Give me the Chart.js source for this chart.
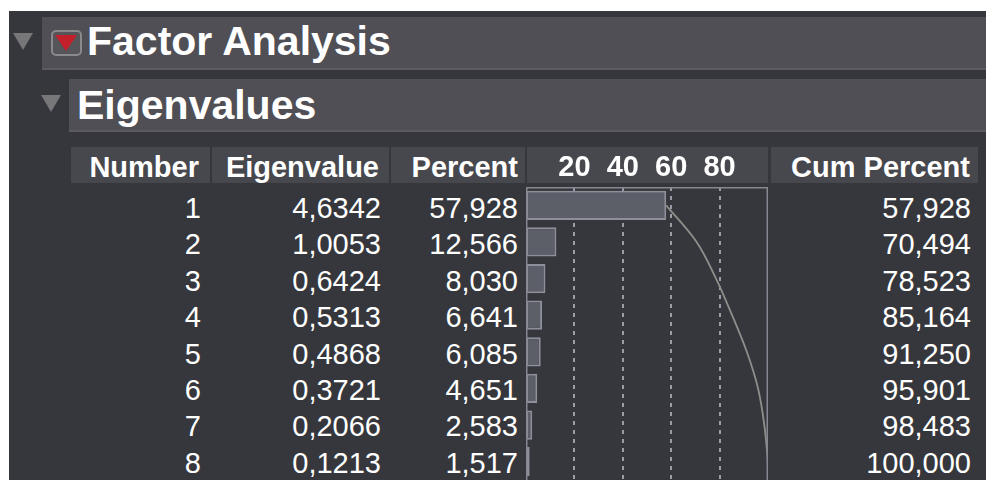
<!DOCTYPE html>
<html>
<head>
<meta charset="utf-8">
<script src="https://cdn.jsdelivr.net/npm/chart.js@4"></script>
<style>
  html, body { margin: 0; padding: 0; background: #fff; }
  body { width: 986px; height: 480px; position: relative; overflow: hidden;
         font-family: 'Liberation Sans', Arial, Helvetica, sans-serif; color: #fff; }
  .abs { position: absolute; }
  #panel { left: 9px; top: 11px; width: 977px; height: 469px; background: #35373c; }
  .bar  { background: #4f4f55; border-bottom: 2px solid #5b5b61; box-sizing: border-box; }
  .title { font-weight: bold; font-size: 41px; line-height: 40px; white-space: nowrap; }
  .hcell { top: 147px; height: 36px; background: #46484e; }
  .htxt { top: 149px; font-weight: bold; font-size: 29px; line-height: 36px; text-align: right; white-space: nowrap; }
  .col  { top: 190px; font-size: 29px; line-height: 36.4px; text-align: right; white-space: nowrap; }
  .tri { width: 0; height: 0; border-left: 10px solid transparent; border-right: 10px solid transparent;
         border-top: 17px solid #77777a; }
  #btn { left: 51px; top: 30px; width: 27px; height: 22px; border: 2px solid #8a8a8d; border-radius: 5px; background: #55555a; }
  #btn .red { position: absolute; left: 2px; top: 3px; width: 0; height: 0; border-left: 11.5px solid transparent;
              border-right: 11.5px solid transparent; border-top: 16px solid #c4202b; }
  #chartWrap { left: 526px; top: 147px; width: 244px; height: 333px; }
</style>
</head>
<body>
<div id="panel" class="abs"></div>

<div class="abs tri" style="left:13px;top:33px;"></div>
<div class="abs bar" style="left:42px;top:17px;width:944px;height:53px;"></div>
<div id="btn" class="abs"><div class="red"></div></div>
<div class="abs title" style="left:87px;top:21px;">Factor Analysis</div>

<div class="abs tri" style="left:41px;top:95px;"></div>
<div class="abs bar" style="left:69px;top:79px;width:917px;height:53px;"></div>
<div class="abs title" style="left:77px;top:85px;">Eigenvalues</div>

<div class="abs hcell" style="left:71px;width:139px;"></div>
<div class="abs hcell" style="left:212px;width:177px;"></div>
<div class="abs hcell" style="left:391px;width:134px;"></div>
<div class="abs hcell" style="left:527px;width:241px;"></div>
<div class="abs hcell" style="left:771px;width:207px;"></div>

<div class="abs htxt" style="left:71px;width:128px;">Number</div>
<div class="abs htxt" style="left:212px;width:167px;">Eigenvalue</div>
<div class="abs htxt" style="left:391px;width:127px;">Percent</div>
<div class="abs htxt" style="left:771px;width:199px;">Cum Percent</div>

<div id="colNum"  class="abs col" style="left:71px;width:130px;"></div>
<div id="colEig"  class="abs col" style="left:212px;width:169px;"></div>
<div id="colPct"  class="abs col" style="left:391px;width:127px;"></div>
<div id="colCum"  class="abs col" style="left:771px;width:200px;"></div>

<div id="chartWrap" class="abs"><canvas id="eigChart"></canvas></div>

<script>
'use strict';

// ── Data ──────────────────────────────────────────────────────────
const numbers     = ['1', '2', '3', '4', '5', '6', '7', '8'];
const eigenvalues = [4.6342, 1.0053, 0.6424, 0.5313, 0.4868, 0.3721, 0.2066, 0.1213];
const percents    = [57.928, 12.566, 8.030, 6.641, 6.085, 4.651, 2.583, 1.517];
const cumPercents = [57.928, 70.494, 78.523, 85.164, 91.250, 95.901, 98.483, 100.000];
const axisTicks   = [20, 40, 60, 80];

// ── Table ─────────────────────────────────────────────────────────
function fmt(v, d) { return v.toFixed(d).replace('.', ','); }
function fill(id, vals) {
  document.getElementById(id).innerHTML = vals.map(v => `<div>${v}</div>`).join('');
}
fill('colNum', numbers);
fill('colEig', eigenvalues.map(v => fmt(v, 4)));
fill('colPct', percents.map(v => fmt(v, 3)));
fill('colCum', cumPercents.map(v => fmt(v, 3)));

// ── Chart ─────────────────────────────────────────────────────────
const FONT = "'Liberation Sans', Arial, Helvetica, sans-serif";

// frame round the plot area (open at the bottom, cut by the window)
const frame = {
  id: 'frame',
  afterDatasetsDraw(c) {
    const a = c.chartArea, ctx = c.ctx;
    ctx.save();
    ctx.strokeStyle = '#858792';
    ctx.lineWidth = 1.5;
    ctx.strokeRect(a.left + 0.75, a.top + 0.75, a.right - a.left - 1.5, a.bottom - a.top + 10);
    ctx.restore();
  },
};

new Chart(document.getElementById('eigChart'), {
  data: {
    labels: numbers,
    datasets: [
      {
        type: 'line',
        data: cumPercents,
        borderColor: '#8e8e8a',
        borderWidth: 1.8,
        pointRadius: 0,
        tension: 0.35,
        order: 0,
      },
      {
        type: 'bar',
        data: percents,
        backgroundColor: '#5c5e68',
        borderColor: '#8d8f9b',
        borderWidth: 2,
        borderSkipped: false,
        categoryPercentage: 1,
        barPercentage: 0.8,
        order: 1,
      },
    ],
  },
  options: {
    indexAxis: 'y',
    responsive: true,
    maintainAspectRatio: false,
    animation: false,
    layout: { padding: { left: 0, right: 2, top: 0, bottom: 0 } },
    scales: {
      x: {
        position: 'top',
        min: 0, max: 100,
        afterBuildTicks: s => { s.ticks = axisTicks.map(v => ({ value: v })); },
        afterFit: s => { s.height = 40; },
        ticks: { color: '#ffffff', padding: 2, maxRotation: 0, autoSkip: false,
                 font: { family: FONT, size: 29, weight: 'bold' } },
        grid: { color: '#9a9ca8', lineWidth: 2, drawTicks: false },
        border: { display: false, dash: [4, 5] },
      },
      y: {
        display: false,
        offset: true,
      },
    },
    plugins: {
      legend: { display: false },
      tooltip: { enabled: false },
    },
  },
  plugins: [frame],
});
</script>
</body>
</html>
